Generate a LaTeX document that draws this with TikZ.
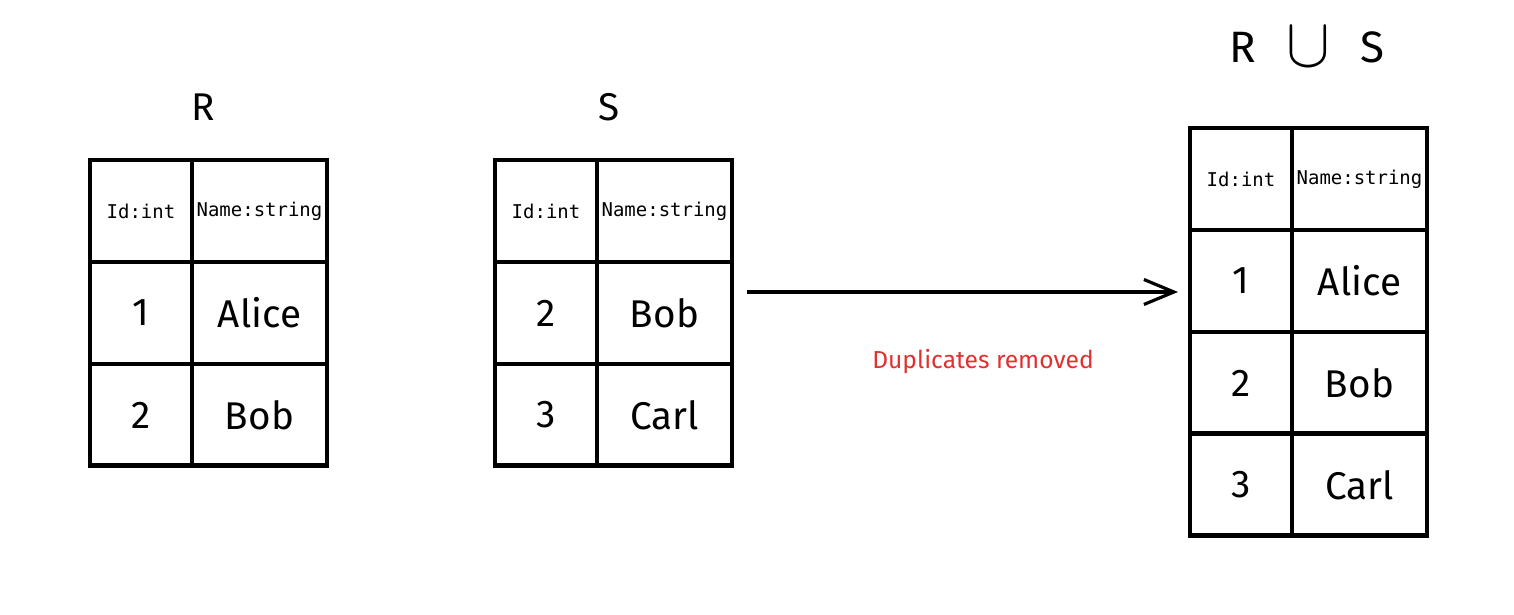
\documentclass[tikz,border=0pt]{standalone}
\usepackage{fontspec}
\setmainfont{Fira Sans}
\setmonofont{DejaVu Sans Mono}
\usepackage{graphicx}
\usepackage{xcolor}
\definecolor{dupred}{HTML}{E03131}
\usetikzlibrary{positioning,arrows.meta}

\begin{document}
\begin{tikzpicture}[x=0.02cm,y=-0.02cm,
      cell/.style={rectangle,draw,line width=2.8pt,minimum width=2.04cm,minimum height=2.04cm,inner sep=0pt,outer sep=0pt,font=\fontsize{22}{26}\selectfont},
      wide/.style={cell,minimum width=2.7cm},
      head/.style={font=\ttfamily\fontsize{10.8}{13}\selectfont},
      title/.style={font=\fontsize{22}{26}\selectfont},
      arr/.style={-{Straight Barb[length=0.6cm,width=0.5cm]},line width=1.8pt}]
      \useasboundingbox (0,0) rectangle (1514,615);
      % relation R
      \node[title] (rtitle) at (203,107) {R};
      \node[cell,head] (r11) at (141,211) {Id:int};
      \node[wide,head,right=0pt of r11] (r12) {Name:string};
      \node[cell,below=0pt of r11] (r21) {1};
      \node[wide,right=0pt of r21] (r22) {Alice};
      \node[cell,below=0pt of r21] (r31) {2};
      \node[wide,right=0pt of r31] (r32) {Bob};
      % relation S
      \node[title] (stitle) at (609,107) {S};
      \node[cell,head] (s11) at (546,211) {Id:int};
      \node[wide,head,right=0pt of s11] (s12) {Name:string};
      \node[cell,below=0pt of s11] (s21) {2};
      \node[wide,right=0pt of s21] (s22) {Bob};
      \node[cell,below=0pt of s21] (s31) {3};
      \node[wide,right=0pt of s31] (s32) {Carl};
      % union
      \node[title,font=\fontsize{25}{28}\selectfont,inner sep=0pt] (utitle) at (1307,47) {R\hspace{0.6cm}\raisebox{-2pt}{\scalebox{1.5}[1.6]{\fontsize{30}{32}\selectfont$\cup$}}\hspace{0.6cm}S};
      \node[cell,head] (u11) at (1241,179) {Id:int};
      \node[wide,head,right=0pt of u11] (u12) {Name:string};
      \node[cell,below=0pt of u11] (u21) {1};
      \node[wide,right=0pt of u21] (u22) {Alice};
      \node[cell,below=0pt of u21] (u31) {2};
      \node[wide,right=0pt of u31] (u32) {Bob};
      \node[cell,below=0pt of u31] (u41) {3};
      \node[wide,right=0pt of u41] (u42) {Carl};
      \draw[arr,shorten <=0.3cm,shorten >=0.24cm] ([yshift=0.42cm]s22.east) -- ([yshift=0.42cm]s22.east -| u21.west);
      \node[text=dupred,font=\fontsize{14}{16}\selectfont] (dup) at (983,362) {Duplicates removed};
    \end{tikzpicture}
\end{document}
